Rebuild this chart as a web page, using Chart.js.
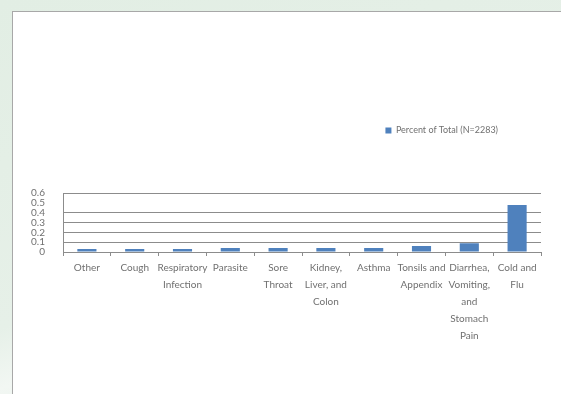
<!DOCTYPE html>
<html>
<head>
<meta charset="utf-8">
<script src="https://cdn.jsdelivr.net/npm/chart.js@4/dist/chart.umd.min.js"></script>
<style>
  html, body { margin: 0; padding: 0; }
  body {
    width: 561px; height: 394px; overflow: hidden;
    background: linear-gradient(160deg, #e2eee4 0%, #e6f0e8 55%, #f2f7f3 65%, #e4efe6 80%);
  }
  #panel {
    position: absolute; left: 12px; top: 11px;
    width: 560px; height: 400px;
    background: #fff;
    border-left: 1px solid #a8a8a8; border-top: 1px solid #a8a8a8;
  }
  #wrap { position: absolute; left: 0; top: 0; width: 548px; height: 382px; }
</style>
</head>
<body>
<div id="panel"><div id="wrap"><canvas id="chart"></canvas></div></div>
<script>
const categories = [
  ['Other'],
  ['Cough'],
  ['Respiratory', 'Infection'],
  ['Parasite'],
  ['Sore', 'Throat'],
  ['Kidney,', 'Liver, and', 'Colon'],
  ['Asthma'],
  ['Tonsils and', 'Appendix'],
  ['Diarrhea,', 'Vomiting,', 'and', 'Stomach', 'Pain'],
  ['Cold and', 'Flu']
]
const percentOfTotal = [0.03, 0.03, 0.03, 0.04, 0.04, 0.04, 0.04, 0.06, 0.09, 0.48]
const seriesLabel = 'Percent of Total (N=2283)'

const FONT = 'Lato, "Liberation Sans", sans-serif'
const TEXT = '#707070'
const LINE = '#8c8c8c'

new Chart(document.getElementById('chart'), {
  type: 'bar',
  data: {
    labels: categories,
    datasets: [{
      label: seriesLabel,
      data: percentOfTotal,
      backgroundColor: '#4f81bd',
      barPercentage: 0.4,
      categoryPercentage: 1
    }]
  },
  options: {
    responsive: true,
    maintainAspectRatio: false,
    animation: false,
    layout: { padding: { top: 71, right: 20, left: 0, bottom: 0 } },
    plugins: {
      tooltip: { enabled: false },
      legend: {
        position: 'top',
        align: 'end',
        labels: {
          boxWidth: 6,
          boxHeight: 6,
          padding: 43,
          color: TEXT,
          font: { family: FONT, size: 9 }
        }
      },
      // empty spacer between the legend and the plot area
      subtitle: {
        display: true,
        text: ' ',
        weight: 500,
        font: { size: 1 },
        padding: { top: 47, bottom: 0 }
      }
    },
    scales: {
      x: {
        offset: true,
        grid: {
          offset: true,
          drawOnChartArea: false,
          drawTicks: true,
          tickLength: 4,
          color: LINE
        },
        border: { color: LINE },
        ticks: {
          maxRotation: 0,
          autoSkip: false,
          padding: 3,
          color: TEXT,
          font: { family: FONT, size: 10, lineHeight: 1.7 }
        },
        afterFit(scale) { scale.height = 142 }
      },
      y: {
        min: 0,
        max: 0.6,
        grid: {
          drawTicks: false,
          color: (ctx) => (ctx.tick && Math.abs(ctx.tick.value - 0.5) < 1e-6 ? 'rgba(0,0,0,0)' : LINE)
        },
        border: { color: LINE },
        ticks: {
          stepSize: 0.1,
          autoSkip: false,
          padding: 18,
          color: TEXT,
          font: { family: FONT, size: 10, lineHeight: 1 },
          callback: (v) => (v === 0 ? '0' : v.toFixed(1))
        },
        afterFit(scale) { scale.width = 50 }
      }
    }
  }
})
</script>
</body>
</html>
